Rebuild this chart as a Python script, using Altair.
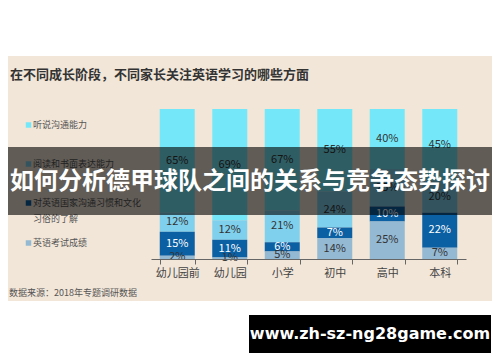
import altair as alt
import pandas as pd

# ---- data ----
cats = ["幼儿园前", "幼儿园", "小学", "初中", "高中", "本科"]
series = ["听说沟通能力", "阅读和书面表达能力", "对英语国家沟通习惯和文化习俗的了解", "英语考试成绩"]
listening = [65, 69, 67, 55, 40, 45]
reading = [12, 12, 21, 24, 25, 20]
culture = [15, 11, 6, 7, 10, 22]
exam = [2, 1, 5, 14, 25, 7]
colors = ["#74E8F8", "#7FD0EC", "#0B5FA3", "#93B9D3"]
legend_lines = [["听说沟通能力"], ["阅读和书面表达能力"], ["对英语国家沟通习惯和文化", "习俗的了解"], ["英语考试成绩"]]

title_text = "在不同成长阶段，不同家长关注英语学习的哪些方面"
source_text = "数据来源：2018年专题调研数据"
banner_text = "如何分析德甲球队之间的关系与竞争态势探讨"
watermark_text = "www.zh-sz-ng28game.com"

values_by_series = [listening, reading, culture, exam]
rows = []
for s_i, (s, vals) in enumerate(zip(series, values_by_series)):
    for c, v in zip(cats, vals):
        rows.append({"cat": c, "series": s, "value": v, "order": 3 - s_i})
df = pd.DataFrame(rows)

FONT = "Noto Sans CJK SC"
one = pd.DataFrame({"a": [0]})

x_enc = alt.X(
    "cat:N", sort=cats, title=None,
    scale=alt.Scale(paddingInner=1/3, paddingOuter=1/6),
    axis=alt.Axis(
        labelAngle=0, labelFont=FONT, labelFontSize=11, labelColor="#444",
        domainColor="#666", tickColor="#666", tickSize=5, tickBand="extent",
        labelPadding=3, zindex=1,
    ),
)

base = alt.Chart(df).transform_stack(
    stack="value", groupby=["cat"], as_=["y0", "y1"], offset="normalize",
    sort=[alt.SortField("order", "ascending")],
).transform_calculate(
    mid="(datum.y0 + datum.y1) / 2", label="datum.value + '%'"
)

yscale = alt.Scale(domain=[0, 1])

bars = base.mark_bar().encode(
    x=x_enc,
    y=alt.Y("y0:Q", scale=yscale, axis=None),
    y2="y1:Q",
    color=alt.Color("series:N", scale=alt.Scale(domain=series, range=colors), legend=None),
)

labels = base.mark_text(font=FONT, fontSize=11).encode(
    x=alt.X("cat:N", sort=cats),
    y=alt.Y("mid:Q", scale=yscale, axis=None),
    text="label:N",
    color=alt.condition(alt.datum.series == series[2], alt.value("white"), alt.value("#333")),
)

bg = alt.Chart(one).mark_rect(color="#F2E6D8").encode(
    x=alt.value(-143), x2=alt.value(341), y=alt.value(-53), y2=alt.value(192)
)

title = alt.Chart(one).mark_text(
    text=title_text, font=FONT, fontSize=13, fontWeight="bold", color="#333",
    align="left", baseline="middle",
).encode(x=alt.value(-141), y=alt.value(-34))

legend_layers = []
legend_ys = [16, 55, 94, 134]
for lines, col, ly in zip(legend_lines, colors, legend_ys):
    legend_layers.append(
        alt.Chart(one).mark_square(size=30, color=col, opacity=1).encode(
            x=alt.value(-122.5), y=alt.value(ly)
        )
    )
    for k, line in enumerate(lines):
        legend_layers.append(
            alt.Chart(one).mark_text(
                text=line, font=FONT, fontSize=9, color="#555", align="left",
                baseline="middle",
            ).encode(x=alt.value(-118), y=alt.value(ly + 16 * k))
        )

source = alt.Chart(one).mark_text(
    text=source_text, font=FONT, fontSize=9, color="#555", align="left", baseline="middle"
).encode(x=alt.value(-142), y=alt.value(184))

banner = alt.Chart(one).mark_rect(color="black", opacity=0.6).encode(
    x=alt.value(-143), x2=alt.value(341), y=alt.value(38), y2=alt.value(106)
)
banner_txt = alt.Chart(one).mark_text(
    text=banner_text, font=FONT, fontSize=24, fontWeight="bold", color="white",
    align="center", baseline="middle",
).encode(x=alt.value(99), y=alt.value(73))

wm = alt.Chart(one).mark_rect(color="black").encode(
    x=alt.value(98), x2=alt.value(340), y=alt.value(206), y2=alt.value(244)
)
wm_txt = alt.Chart(one).mark_text(
    text=watermark_text, font="DejaVu Sans", fontSize=16, fontWeight="bold", color="white",
    align="center", baseline="middle",
).encode(x=alt.value(219), y=alt.value(225))

chart = alt.layer(
    bg, title, *legend_layers, bars, labels, source, banner, banner_txt, wm, wm_txt
).properties(
    width=315, height=150,
    padding={"left": 143, "top": 101, "right": 26, "bottom": 95},
    autosize=alt.AutoSizeParams(type="none"),
).configure_view(stroke=None).resolve_scale(color="independent")

chart.save("out.html", embed_options={"renderer": "svg", "actions": False})
